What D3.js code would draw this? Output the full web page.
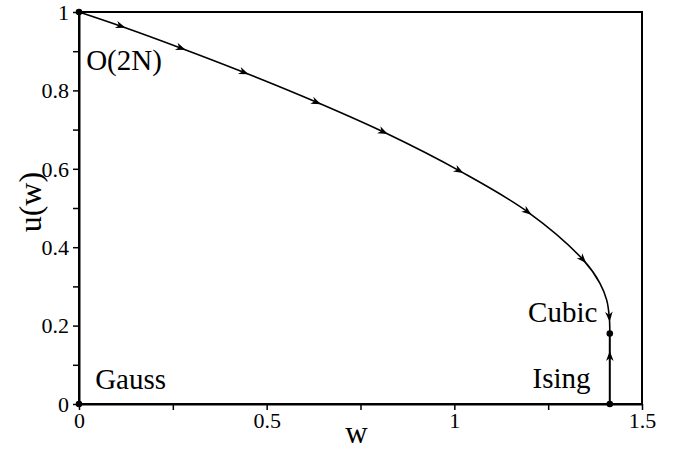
<!DOCTYPE html>
<html>
<head>
<meta charset="utf-8">
<script src="https://cdn.jsdelivr.net/npm/d3@7"></script>
<style>
  html, body { margin: 0; padding: 0; background: #fff; }
  svg { display: block; }
</style>
</head>
<body>
<svg id="chart" width="680" height="451"></svg>
<script>
// ---- data ----
const curveW = [0, 0.114, 0.274, 0.442, 0.635, 0.813, 1.015, 1.197, 1.344, 1.388, 1.406, 1.413, 1.4142];
const curveU = [1, 0.963, 0.907, 0.845, 0.769, 0.693, 0.594, 0.489, 0.367, 0.308, 0.265, 0.220, 0.180];
const arrowW = [0.114, 0.274, 0.442, 0.635, 0.813, 1.015, 1.197, 1.344, 1.413];
const arrowU = [0.963, 0.907, 0.845, 0.769, 0.693, 0.594, 0.489, 0.367, 0.220];
const isingLineW = [1.4142, 1.4142];
const isingLineU = [0, 0.18];
const isingArrowW = [1.4142];
const isingArrowU = [0.125];
const fixedW = [0, 0, 1.4142, 1.4142];
const fixedU = [0, 1, 0, 0.18];
const labelNames = ["O(2N)", "Gauss", "Cubic", "Ising"];
const labelW = [0.019, 0.043, 1.381, 1.363];
const labelU = [0.851, 0.038, 0.21, 0.041];
const xTicks = [0, 0.25, 0.5, 0.75, 1, 1.25, 1.5];
const xTickLabels = ["0", "", "0.5", "", "1", "", "1.5"];
const yTicks = [0, 0.1, 0.2, 0.3, 0.4, 0.5, 0.6, 0.7, 0.8, 0.9, 1];
const yTickLabels = ["0", "", "0.2", "", "0.4", "", "0.6", "", "0.8", "", "1"];

const FONT = '"Liberation Serif", "Times New Roman", Times, "DejaVu Serif", serif';

// ---- layout ----
const svg = d3.select("#chart").attr("font-family", FONT);
const x = d3.scaleLinear().domain([0, 1.5]).range([79, 642]);
const y = d3.scaleLinear().domain([0, 1]).range([404, 12]);

// frame
svg.append("rect")
  .attr("x", x(0)).attr("y", y(1))
  .attr("width", x(1.5) - x(0)).attr("height", y(0) - y(1))
  .attr("fill", "none").attr("stroke", "#000").attr("stroke-width", 2);

// axes
const xAxis = d3.axisBottom(x).tickValues(xTicks)
  .tickFormat((d, i) => xTickLabels[i]).tickSize(6).tickSizeOuter(0);
const gx = svg.append("g").attr("transform", `translate(0,${y(0)})`).call(xAxis);
const yAxis = d3.axisLeft(y).tickValues(yTicks)
  .tickFormat((d, i) => yTickLabels[i]).tickSize(6).tickSizeOuter(0);
const gy = svg.append("g").attr("transform", `translate(${x(0)},0)`).call(yAxis);
[gx, gy].forEach(g => {
  g.attr("font-family", FONT).attr("font-size", 22);
  g.select(".domain").attr("stroke", "#000").attr("stroke-width", 2);
  g.selectAll(".tick line").attr("stroke", "#000").attr("stroke-width", 1.5);
  g.selectAll(".tick text").attr("font-family", FONT).attr("font-size", 22).attr("fill", "#000");
});
gx.selectAll(".tick text").attr("dy", "0.5em").attr("y", 13);
gy.selectAll(".tick text").attr("x", -10).attr("dy", "0.33em");

// axis titles
svg.append("text").attr("x", (x(0) + x(1.5)) / 2 - 4).attr("y", 443)
  .attr("text-anchor", "middle").attr("font-family", FONT).attr("font-size", 31).text("w");
svg.append("text")
  .attr("transform", `translate(41,${y(0.515)}) rotate(-90)`)
  .attr("text-anchor", "middle").attr("font-family", FONT).attr("font-size", 32).text("u(w)");

// flow curve
const pts = curveW.map((w, i) => [w, curveU[i]]);
const line = d3.line().x(d => x(d[0])).y(d => y(d[1])).curve(d3.curveCatmullRom.alpha(0.5));
const path = svg.append("path").datum(pts).attr("d", line)
  .attr("fill", "none").attr("stroke", "#000").attr("stroke-width", 1.6);

// Ising line
svg.append("path")
  .datum(isingLineW.map((w, i) => [w, isingLineU[i]]))
  .attr("d", d3.line().x(d => x(d[0])).y(d => y(d[1])))
  .attr("fill", "none").attr("stroke", "#000").attr("stroke-width", 2);

// arrowheads
const node = path.node();
const total = node.getTotalLength();
const samples = d3.range(0, total + 0.5, 0.5).map(l => node.getPointAtLength(Math.min(l, total)));
function arrowAt(px, py) {
  let best = 0, bd = Infinity;
  samples.forEach((p, i) => {
    const dd = (p.x - px) ** 2 + (p.y - py) ** 2;
    if (dd < bd) { bd = dd; best = i; }
  });
  const a = samples[Math.max(0, best - 4)], b = samples[Math.min(samples.length - 1, best + 4)];
  return Math.atan2(b.y - a.y, b.x - a.x) * 180 / Math.PI;
}
const arrowShape = "M4,0 L-6,-3.8 L-3,0 L-6,3.8 Z";
arrowW.forEach((w, i) => {
  const px = x(w), py = y(arrowU[i]);
  const ang = arrowAt(px, py);
  svg.append("path").attr("d", arrowShape)
    .attr("transform", `translate(${px},${py}) rotate(${ang})`)
    .attr("fill", "#000");
});
isingArrowW.forEach((w, i) => {
  svg.append("path").attr("d", arrowShape)
    .attr("transform", `translate(${x(w)},${y(isingArrowU[i])}) rotate(-90)`)
    .attr("fill", "#000");
});

// fixed points
svg.selectAll("circle.fp").data(fixedW).enter().append("circle")
  .attr("class", "fp")
  .attr("cx", d => x(d)).attr("cy", (d, i) => y(fixedU[i]))
  .attr("r", 3.3).attr("fill", "#000");

// labels
labelNames.forEach((t, i) => {
  svg.append("text")
    .attr("x", x(labelW[i])).attr("y", y(labelU[i]))
    .attr("text-anchor", i >= 2 ? "end" : "start")
    .attr("font-family", FONT).attr("font-size", 29).text(t);
});
</script>
</body>
</html>
